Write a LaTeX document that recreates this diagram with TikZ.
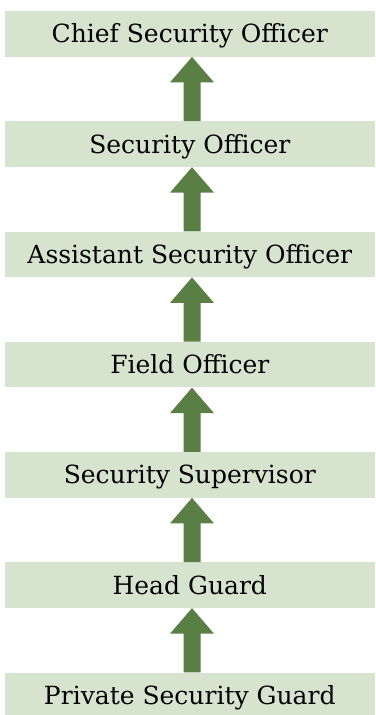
\documentclass[tikz,border=0pt]{standalone}
\usepackage{fontspec}
\setmainfont{DejaVu Serif}
\usetikzlibrary{calc}
\definecolor{boxfill}{HTML}{D6E4CF}
\definecolor{arrowfill}{HTML}{5A7F45}
\begin{document}
\begin{tikzpicture}[x=1pt,y=1pt,
  rankbox/.style={fill=boxfill, draw=none, minimum width=369.8pt, minimum height=45.5pt,
    inner sep=0pt, text height=20.5pt, text depth=2.5pt, anchor=north west,
    font=\fontsize{25}{25}\selectfont},
  uparrow/.style={fill=arrowfill, draw=none}]
\useasboundingbox (0,0) rectangle (375,715);
\begin{scope}
\clip (0,0) rectangle (375,715);
\node[rankbox] (b0) at (4.7,{715-11}) {Chief Security Officer};
\node[rankbox] (b1) at (4.7,{715-121.25}) {Security Officer};
\node[rankbox] (b2) at (4.7,{715-231.5}) {Assistant Security Officer};
\node[rankbox] (b3) at (4.7,{715-341.75}) {Field Officer};
\node[rankbox] (b4) at (4.7,{715-452}) {Security Supervisor};
\node[rankbox] (b5) at (4.7,{715-562.25}) {Head Guard};
\node[rankbox] (b6) at (4.7,{715-672.5}) {Private Security Guard};
\foreach \lo/\hi in {b1/b0,b2/b1,b3/b2,b4/b3,b5/b4,b6/b5}{
  \path let \p1=(\lo.north), \p2=(\hi.south) in
    [uparrow] (192,\y1) -- (192+8.5,\y1) -- (192+8.5,\y2-25.5) -- (192+22,\y2-25.5)
    -- (192,\y2) -- (192-22,\y2-25.5) -- (192-8.5,\y2-25.5) -- (192-8.5,\y1) -- cycle;
}
\end{scope}
\end{tikzpicture}
\end{document}
